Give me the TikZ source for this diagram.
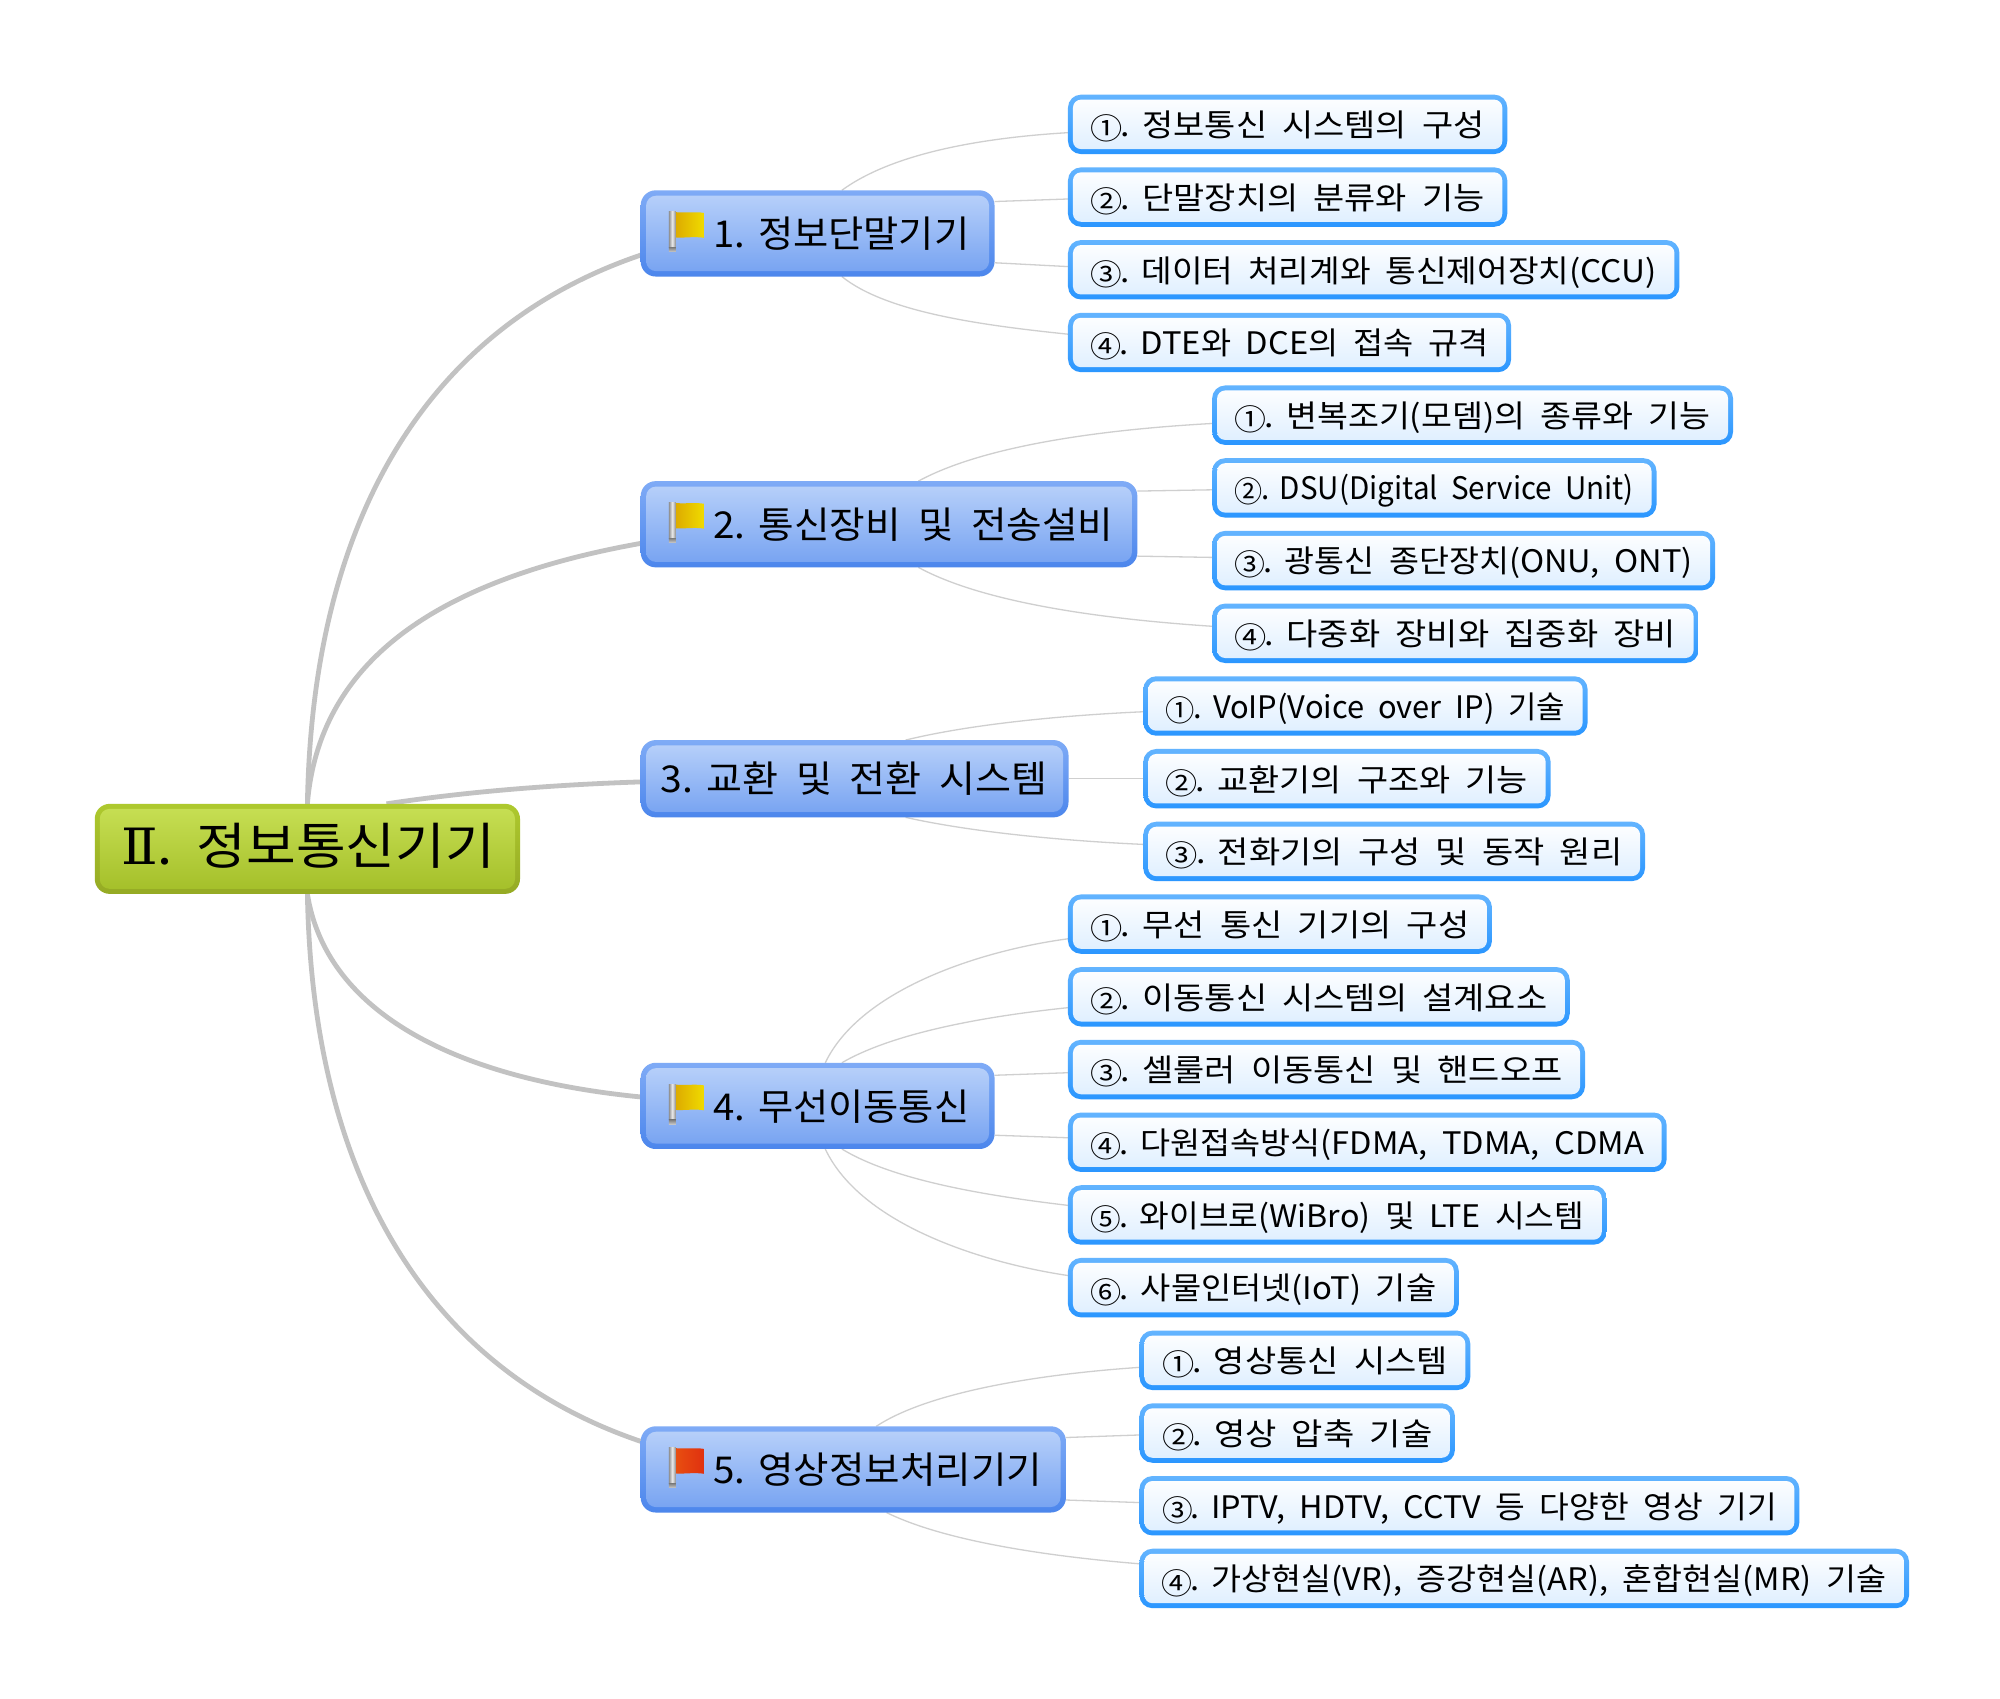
\documentclass[tikz,border=0pt]{standalone}
\usepackage{fontspec}
\usepackage{graphicx}
\usetikzlibrary{calc,backgrounds}
\setmainfont[WordSpace=2.0]{Noto Sans CJK KR}
\newfontfamily\romfont{DejaVu Serif}
\definecolor{linkc}{HTML}{C2C2C2}
\definecolor{thinc}{HTML}{CFCFCF}
\definecolor{ltop}{HTML}{63B4FF}\definecolor{lbot}{HTML}{2A96FF}\definecolor{lin}{HTML}{DDEEFF}
\definecolor{mtop}{HTML}{7FABF6}\definecolor{mbot}{HTML}{4C86EC}\definecolor{mitop}{HTML}{BAD2FA}\definecolor{mibot}{HTML}{74A1F1}
\definecolor{rtop}{HTML}{AEC92E}\definecolor{rbot}{HTML}{95AA24}\definecolor{ritop}{HTML}{C8E055}\definecolor{rimid}{HTML}{B5D62E}\definecolor{ribot}{HTML}{A3BE28}
\definecolor{ya}{HTML}{DCA800}\definecolor{yb}{HTML}{F0DC00}\definecolor{ra}{HTML}{E85010}\definecolor{rb}{HTML}{E03010}
\tikzset{
  leafbox/.style={rounded corners=13pt,shade,top color=ltop,bottom color=lbot,
    path picture={\shade[rounded corners=8pt,top color=white,bottom color=lin]
      ($(path picture bounding box.south west)+(5pt,5pt)$) rectangle ($(path picture bounding box.north east)-(5pt,5pt)$);},
    font=\fontsize{31}{31}\selectfont},
  midbox/.style={rounded corners=15pt,shade,top color=mtop,bottom color=mbot,
    path picture={\shade[rounded corners=10pt,top color=mitop,bottom color=mibot]
      ($(path picture bounding box.south west)+(5.4pt,5.4pt)$) rectangle ($(path picture bounding box.north east)-(5.4pt,5.4pt)$);},
    font=\fontsize{37}{37}\selectfont},
  rootbox/.style={rounded corners=15pt,shade,top color=rtop,bottom color=rbot,
    path picture={\shade[rounded corners=10pt,top color=ritop,middle color=rimid,bottom color=ribot]
      ($(path picture bounding box.south west)+(5pt,5pt)$) rectangle ($(path picture bounding box.north east)-(5pt,5pt)$);},
    font=\fontsize{50}{50}\selectfont},
  biglink/.style={draw=linkc,line width=4.8pt},
  finelink/.style={draw=thinc,line width=1.3pt},
}
% style, name, x1, y1, x2, y2, left margin, right margin, text
\newcommand\mapbox[9]{%
  \pgfmathsetlengthmacro\mw{(#5-#3+1.4)*1.27551pt}%
  \pgfmathsetlengthmacro\mh{(#6-#4+1.6)*1.27551pt}%
  \pgfmathsetlengthmacro\tw{(#5-#3-#7-#8)*1.27551pt}%
  \pgfmathsetlengthmacro\ho{(#7-#8)*1.27551pt}%
  \node[#1,inner sep=0pt,outer sep=0pt,minimum width=\mw,minimum height=\mh] (#2) at ({(#3+#5)/2},{(#4+#6)/2})
    {\hspace*{\ho}\raisebox{-2.5pt}[\height][\depth]{\resizebox{\tw}{\height}{\vphantom{가(}#9}}};}
\newcommand\leaf[6]{\mapbox{leafbox}{#1}{#2}{#3}{#4}{#5}{17}{17}{#6}}
\newcommand\cn[1]{\raisebox{-0.1em}{\scalebox{.95}{#1}}\kern-0.06em.\kern-0.16em\relax}
\newcommand\nsp{\kern-0.18em\relax}
% style, from, offset, control 1, control 2, to, offset
\newcommand\lnk[7]{\draw[#1] ($(#2)+(#3)$) .. controls (#4) and (#5) .. ($(#6)+(#7)$);}
\newcommand\flag[3]{%
  \begin{scope}[shift={(#1.west)}]
    \shade[left color=#2,right color=#3] (26,-17) .. controls (32,-15.5) and (42,-17.5) .. (50,-16) -- (50,3.5) .. controls (42,2) and (32,4) .. (26,3) -- cycle;
    \shade[left color=black!45,right color=black!45,middle color=black!8] (22,-17) rectangle (27.5,11);
    \shade[top color=black!50,bottom color=black!20] (22,11) rectangle (27.5,14.5);
  \end{scope}}
\begin{document}
\begin{tikzpicture}[x=1.27551pt,y=-1.27551pt]
\useasboundingbox (0,0) rectangle (1568,1332);
\mapbox{rootbox}{r}{75}{631}{407}{700}{20}{19}{\raisebox{5pt}{{\romfont Ⅱ}.\kern-0.08em\relax{} 정보통신기기}}
\mapbox{midbox}{n1}{503}{150}{779}{216}{56}{19}{1.\nsp{} 정보단말기기}
\mapbox{midbox}{n2}{503}{378}{891}{444}{56}{18}{2.\nsp{} 통신장비 및 전송설비}
\mapbox{midbox}{n3}{503}{581}{837}{640}{15}{16}{3.\nsp{} 교환 및 전환 시스템}
\mapbox{midbox}{n4}{503}{834}{779}{900}{56}{19}{4.\nsp{} 무선이동통신}
\mapbox{midbox}{n5}{503}{1119}{835}{1185}{56}{18}{5.\nsp{} 영상정보처리기기}
\flag{n1}{ya}{yb}
\flag{n2}{ya}{yb}
\flag{n4}{ya}{yb}
\flag{n5}{ra}{rb}
\leaf{l11}{838}{75}{1181}{120}{\cn{①} 정보통신 시스템의 구성}
\leaf{l12}{838}{132}{1181}{177}{\cn{②} 단말장치의 분류와 기능}
\leaf{l13}{838}{189}{1316}{234}{\cn{③} 데이터 처리계와 통신제어장치(CCU)}
\leaf{l14}{838}{246}{1184}{291}{\cn{④} DTE와 DCE의 접속 규격}
\leaf{l21}{951}{303}{1358}{348}{\cn{①} 변복조기(모뎀)의 종류와 기능}
\leaf{l22}{951}{360}{1298}{405}{\cn{②} DSU(Digital Service Unit)}
\leaf{l23}{951}{417}{1344}{462}{\cn{③} 광통신 종단장치(ONU, ONT)}
\leaf{l24}{951}{474}{1331}{519}{\cn{④} 다중화 장비와 집중화 장비}
\leaf{l31}{897}{531}{1244}{576}{\cn{①} VoIP(Voice over IP) 기술}
\leaf{l32}{897}{588}{1215}{633}{\cn{②} 교환기의 구조와 기능}
\leaf{l33}{897}{645}{1289}{690}{\cn{③} 전화기의 구성 및 동작 원리}
\leaf{l41}{838}{702}{1169}{747}{\cn{①} 무선 통신 기기의 구성}
\leaf{l42}{838}{759}{1230}{804}{\cn{②} 이동통신 시스템의 설계요소}
\leaf{l43}{838}{816}{1242}{861}{\cn{③} 셀룰러 이동통신 및 핸드오프}
\leaf{l44}{838}{873}{1306}{918}{\cn{④} 다원접속방식(FDMA, TDMA, CDMA}
\leaf{l45}{838}{930}{1259}{975}{\cn{⑤} 와이브로(WiBro) 및 LTE 시스템}
\leaf{l46}{838}{987}{1143}{1032}{\cn{⑥} 사물인터넷(IoT) 기술}
\leaf{l51}{894}{1044}{1152}{1089}{\cn{①} 영상통신 시스템}
\leaf{l52}{894}{1101}{1140}{1146}{\cn{②} 영상 압축 기술}
\leaf{l53}{894}{1158}{1410}{1203}{\cn{③} IPTV, HDTV, CCTV 등 다양한 영상 기기}
\leaf{l54}{894}{1215}{1496}{1260}{\cn{④} 가상현실(VR), 증강현실(AR), 혼합현실(MR) 기술}
\begin{pgfonlayer}{background}
\fill[white] (0,0) rectangle (1568,1332);
\lnk{biglink}{r.north}{0,0}{245,400}{340,255}{n1.west}{0,17}
\lnk{biglink}{r.north}{0,0}{250,520}{340,455}{n2.west}{0,15}
\lnk{biglink}{r.north}{62,0}{370,620}{440,615}{n3.west}{0,2.5}
\lnk{biglink}{r.south}{0,0}{255,790}{350,845}{n4.west}{0,-7}
\lnk{biglink}{r.south}{0,0}{245,930}{340,1075}{n5.west}{0,-22}
\lnk{finelink}{n1.north}{19,0}{700,120}{770,108}{l11.west}{0,6.5}
\draw[finelink] ($(n1.east)+(0,-25)$) -- ($(l12.west)+(0,1.5)$);
\draw[finelink] ($(n1.east)+(0,23)$) -- ($(l13.west)+(0,-2.5)$);
\lnk{finelink}{n1.south}{19,0}{695,245}{770,255}{l14.west}{0,-6.5}
\lnk{finelink}{n2.north}{23,0}{770,350}{860,337}{l21.west}{0,6.5}
\draw[finelink] ($(n2.east)+(0,-26)$) -- ($(l22.west)+(0,1.5)$);
\draw[finelink] ($(n2.east)+(0,25)$) -- ($(l23.west)+(0,-2.5)$);
\lnk{finelink}{n2.south}{23,0}{770,472}{860,485}{l24.west}{0,-5.5}
\lnk{finelink}{n3.north}{40,0}{760,568}{830,561}{l31.west}{0,4.5}
\draw[finelink] (n3.east) -- (l32.west);
\lnk{finelink}{n3.south}{40,0}{760,652}{830,659}{l33.west}{0,-5.5}
\lnk{finelink}{n4.north}{6,0}{675,775}{770,745}{l41.west}{0,11.5}
\lnk{finelink}{n4.north}{19,0}{700,810}{770,797}{l42.west}{0,8.5}
\draw[finelink] ($(n4.east)+(0,-24)$) -- ($(l43.west)+(0,2.5)$);
\draw[finelink] ($(n4.east)+(0,23)$) -- ($(l44.west)+(0,-3.5)$);
\lnk{finelink}{n4.south}{19,0}{700,925}{770,937}{l45.west}{0,-7.5}
\lnk{finelink}{n4.south}{6,0}{675,960}{770,990}{l46.west}{0,-9.5}
\lnk{finelink}{n5.north}{18,0}{730,1090}{820,1077}{l51.west}{0,5.5}
\draw[finelink] ($(n5.east)+(0,-25)$) -- ($(l52.west)+(0,1.5)$);
\draw[finelink] ($(n5.east)+(0,24)$) -- ($(l53.west)+(0,-2.5)$);
\lnk{finelink}{n5.south}{26,0}{740,1208}{820,1220}{l54.west}{0,-11.5}
\end{pgfonlayer}
\end{tikzpicture}
\end{document}
